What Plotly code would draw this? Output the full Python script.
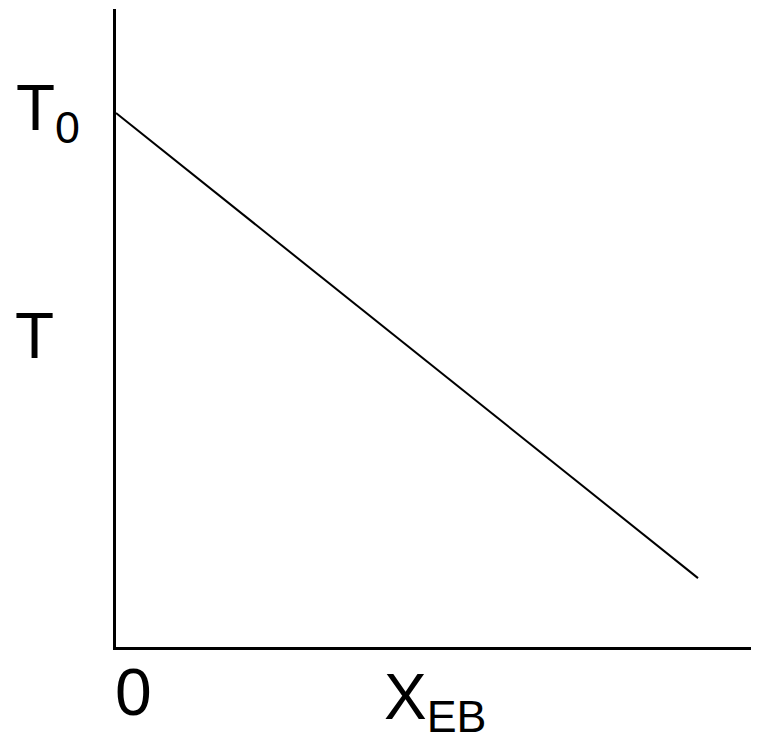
import plotly.graph_objects as go

# Data (normalized units)
x_eb = [0.0, 0.908]
temps = [0.837, 0.108]

# Label texts
t0_label = "T<sub>0</sub>"
t_label = "T"
zero_label = "0"
x_label = "X<sub>EB</sub>"

OFF = 8  # default body margin of the html page
W, H = 759 - OFF, 740 - OFF
L, R, T, B = 108, 2, 1, 93
pw, ph = W - L - R, H - T - B


def px_to_paper(px, py):
    # px, py are page pixel coordinates
    return (px - OFF - L) / pw, (H - B - (py - OFF)) / ph


fig = go.Figure()
fig.add_trace(go.Scatter(x=x_eb, y=temps, mode="lines",
                         line=dict(color="black", width=2), hoverinfo="skip",
                         showlegend=False))

font = dict(family="Liberation Sans, Arial, sans-serif", color="black")

ann = []
for text, (cx, cy), size in [
    (t0_label, (48, 112), 64),
    (t_label, (34, 336), 64),
    (zero_label, (133, 692), 66),
    (x_label, (435, 701), 64),
]:
    xp, yp = px_to_paper(cx, cy)
    ann.append(dict(text=text, x=xp, y=yp, xref="paper", yref="paper",
                    xanchor="center", yanchor="middle", showarrow=False,
                    font=dict(size=size, **font)))

axis_common = dict(range=[0, 1], showgrid=False, zeroline=False,
                   showticklabels=False, ticks="", showline=True,
                   linecolor="black", linewidth=3, fixedrange=True)

fig.update_layout(
    width=W, height=H,
    margin=dict(l=L, r=R, t=T, b=B),
    paper_bgcolor="white", plot_bgcolor="white",
    xaxis=dict(axis_common, range=[0, 1]),
    yaxis=axis_common,
    annotations=ann,
    showlegend=False,
)

fig.write_html("out.html")
